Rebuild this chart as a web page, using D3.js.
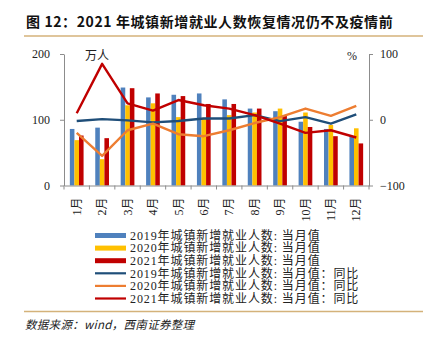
<!DOCTYPE html>
<html>
<head>
<meta charset="utf-8">
<script src="https://cdn.jsdelivr.net/npm/d3@7"></script>
<style>
  html, body { margin: 0; padding: 0; background: #fff; }
  svg { display: block; }
</style>
</head>
<body>
<div id="chart"></div>
<script>
// Monthly new urban employment (10k persons) and year-over-year change (%)
const months = ["1月", "2月", "3月", "4月", "5月", "6月", "7月", "8月", "9月", "10月", "11月", "12月"];
const emp2019 = [86, 88, 149, 134, 138, 140, 131, 117, 113, 97, 86, 75];
const emp2020 = [69, 40, 122, 125, 104, 103, 107, 111, 117, 111, 92, 87];
const emp2021 = [76, 72, 148, 140, 136, 124, 124, 117, 106, 89, 75, 64];
const yoy2019 = [-2, 1, -1, -4, -2, 2, 2, 7, -2, 4, -6, 8];
const yoy2020 = [-20, -55, -16, -6, -22, -25, -16, -5, 4, 17, 6, 21];
const yoy2021 = [10, 85, 25, 14, 30, 22, 17, 7, -6, -20, -16, -27];
const leftTicks = [0, 100, 200];
const rightTicks = [-100, 0, 100];

const barSeries = [
  { name: "2019年城镇新增就业人数: 当月值", values: emp2019, color: "#4f81bd" },
  { name: "2020年城镇新增就业人数: 当月值", values: emp2020, color: "#ffc000" },
  { name: "2021年城镇新增就业人数: 当月值", values: emp2021, color: "#c00000" }
];
const lineSeries = [
  { name: "2019年城镇新增就业人数: 当月值：同比", values: yoy2019, color: "#1f4e79" },
  { name: "2020年城镇新增就业人数: 当月值：同比", values: yoy2020, color: "#ed7d31" },
  { name: "2021年城镇新增就业人数: 当月值：同比", values: yoy2021, color: "#c00000" }
];

const W = 427, H = 339;
const plot = { left: 64, right: 369, top: 54, bottom: 185.5 };
const serif = "'Liberation Serif', 'Noto Sans CJK SC', serif";
const cjk = "'Liberation Serif', 'Noto Sans CJK SC', sans-serif";
const axisColor = "#8c8c8c";

const svg = d3.select("#chart").append("svg")
  .attr("width", W).attr("height", H);

// Title and rules
svg.append("text")
  .attr("x", 26).attr("y", 27)
  .attr("font-family", "'Noto Sans CJK SC', sans-serif")
  .attr("font-weight", 700).attr("font-size", 14)
  .attr("letter-spacing", 0.6)
  .attr("fill", "#111")
  .text("图 12：2021 年城镇新增就业人数恢复情况仍不及疫情前");
svg.append("line")
  .attr("x1", 24).attr("x2", 423).attr("y1", 36).attr("y2", 36)
  .attr("stroke", "#d4b27a").attr("stroke-width", 1.5);
svg.append("line")
  .attr("x1", 24).attr("x2", 423).attr("y1", 311.5).attr("y2", 311.5)
  .attr("stroke", "#d4b27a").attr("stroke-width", 1.5);
svg.append("text")
  .attr("x", 25).attr("y", 329)
  .attr("font-family", "'Noto Sans CJK SC', sans-serif")
  .attr("font-style", "italic").attr("font-size", 11.5)
  .attr("letter-spacing", 0.3)
  .attr("fill", "#222")
  .text("数据来源：wind，西南证券整理");

// Scales
const x = d3.scaleBand().domain(months).range([plot.left, plot.right]).padding(0);
const xInner = d3.scaleBand().domain(d3.range(barSeries.length))
  .range([x.bandwidth() * 0.23, x.bandwidth() * 0.77]).padding(0);
const yL = d3.scaleLinear().domain([0, 200]).range([plot.bottom, plot.top]);
const yR = d3.scaleLinear().domain([-100, 100]).range([plot.bottom, plot.top]);

// Bars
const g = svg.append("g");
barSeries.forEach((s, si) => {
  g.append("g").selectAll("rect")
    .data(s.values)
    .join("rect")
    .attr("x", (d, i) => x(months[i]) + xInner(si))
    .attr("width", xInner.bandwidth())
    .attr("y", d => yL(d))
    .attr("height", d => yL(0) - yL(d))
    .attr("fill", s.color);
});

// Lines on the right axis
const line = d3.line()
  .x((d, i) => x(months[i]) + x.bandwidth() / 2)
  .y(d => yR(d));
lineSeries.forEach(s => {
  g.append("path")
    .datum(s.values)
    .attr("d", line)
    .attr("fill", "none")
    .attr("stroke", s.color)
    .attr("stroke-width", 2.4)
    .attr("stroke-linejoin", "round");
});

// Axes
function styleAxis(sel) {
  sel.select(".domain").attr("stroke", axisColor);
  sel.selectAll(".tick line").attr("stroke", axisColor);
  sel.selectAll("text").attr("font-family", serif).attr("font-size", 12).attr("fill", "#222");
}
const axL = svg.append("g").attr("transform", `translate(${plot.left},0)`)
  .call(d3.axisLeft(yL).tickValues(leftTicks).tickSize(4).tickSizeOuter(0).tickPadding(10));
styleAxis(axL);
const axR = svg.append("g").attr("transform", `translate(${plot.right},0)`)
  .call(d3.axisRight(yR).tickValues(rightTicks).tickSize(4).tickSizeOuter(0).tickPadding(7)
    .tickFormat(d => d < 0 ? "−" + Math.abs(d) : d));
styleAxis(axR);

const axB = svg.append("g").attr("transform", `translate(0,${yL(0)})`)
  .call(d3.axisBottom(x).tickSize(0).tickSizeOuter(0));
axB.select(".domain").attr("stroke", axisColor);
axB.selectAll("text")
  .attr("font-family", cjk).attr("font-size", 12).attr("fill", "#222")
  .attr("transform", "rotate(-90)")
  .attr("text-anchor", "end")
  .attr("dx", "-1em").attr("dy", "0.35em")
  .attr("x", 0).attr("y", 0);
// category separators
svg.append("g").selectAll("line")
  .data(d3.range(months.length + 1))
  .join("line")
  .attr("x1", i => plot.left + i * x.step())
  .attr("x2", i => plot.left + i * x.step())
  .attr("y1", yL(0)).attr("y2", yL(0) + 4)
  .attr("stroke", axisColor);

// Units
svg.append("text").attr("x", 85).attr("y", 60)
  .attr("font-family", cjk).attr("font-size", 12).attr("fill", "#222").text("万人");
svg.append("text").attr("x", 347).attr("y", 60)
  .attr("font-family", serif).attr("font-size", 12).attr("fill", "#222").text("%");

// Legend
const legend = svg.append("g").attr("transform", "translate(95,235.5)");
const rowH = 12.6;
barSeries.forEach((s, i) => {
  legend.append("rect").attr("x", 0).attr("y", i * rowH - 2.5)
    .attr("width", 31).attr("height", 5).attr("fill", s.color);
});
lineSeries.forEach((s, j) => {
  const i = j + barSeries.length;
  legend.append("line").attr("x1", 0).attr("x2", 31)
    .attr("y1", i * rowH).attr("y2", i * rowH)
    .attr("stroke", s.color).attr("stroke-width", 2.2);
});
barSeries.concat(lineSeries).forEach((s, i) => {
  legend.append("text").attr("x", 35).attr("y", i * rowH)
    .attr("dy", "0.36em")
    .attr("font-family", cjk).attr("font-size", 12).attr("fill", "#222")
    .attr("letter-spacing", 0.9)
    .text(s.name);
});
</script>
</body>
</html>
